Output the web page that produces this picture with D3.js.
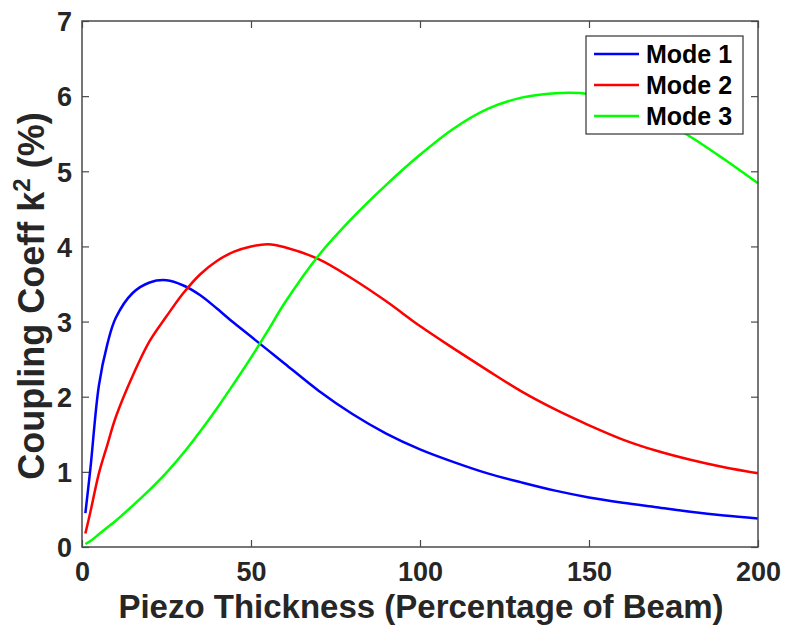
<!DOCTYPE html>
<html>
<head>
<meta charset="utf-8">
<script src="https://cdn.jsdelivr.net/npm/d3@7"></script>
<style>
  html, body { margin: 0; padding: 0; background: #fff; }
  svg { display: block; font-family: "Liberation Sans", Arial, sans-serif; }
</style>
</head>
<body>
<svg id="chart" width="787" height="628"></svg>
<script>
// ---- data ----
const thickness = [1, 2.5, 5, 7.5, 10, 15, 20, 25, 30, 35, 40, 45, 50, 55, 60, 70, 80, 90, 100, 110, 120, 130, 140, 150, 160, 170, 180, 190, 200];
const mode1 = [0.45, 1.05, 2.15, 2.70, 3.05, 3.38, 3.52, 3.55, 3.48, 3.35, 3.17, 2.98, 2.80, 2.62, 2.44, 2.08, 1.77, 1.51, 1.30, 1.13, 0.98, 0.86, 0.75, 0.66, 0.59, 0.53, 0.47, 0.42, 0.38];
const mode2 = [0.18, 0.47, 0.98, 1.36, 1.73, 2.28, 2.74, 3.07, 3.38, 3.63, 3.81, 3.93, 4.00, 4.03, 3.99, 3.83, 3.57, 3.27, 2.94, 2.64, 2.35, 2.07, 1.83, 1.62, 1.43, 1.28, 1.16, 1.06, 0.98];
const mode3 = [0.04, 0.08, 0.17, 0.26, 0.35, 0.55, 0.76, 0.99, 1.25, 1.54, 1.85, 2.18, 2.52, 2.88, 3.25, 3.88, 4.38, 4.82, 5.22, 5.57, 5.83, 5.98, 6.04, 6.03, 5.92, 5.72, 5.46, 5.16, 4.84];
const seriesNames = ["Mode 1", "Mode 2", "Mode 3"];
const seriesColors = ["#0000ff", "#ff0000", "#00ff00"];
const xTicks = [0, 50, 100, 150, 200];
const yTicks = [0, 1, 2, 3, 4, 5, 6, 7];
const xLabel = "Piezo Thickness (Percentage of Beam)";

// ---- layout ----
const svg = d3.select("#chart");
const L = 82, T = 21, R = 758, B = 547;
const x = d3.scaleLinear().domain([0, 200]).range([L, R]);
const y = d3.scaleLinear().domain([0, 7]).range([B, T]);
const axisColor = "#4a4a4a";
const textColor = "#262626";
const tickLen = 7;
const fmt = d3.format("d");

// ticks (inward, all four sides)
const g = svg.append("g");
const axBottom = g.append("g").attr("transform", `translate(0,${B})`)
  .call(d3.axisBottom(x).tickValues(xTicks).tickFormat(fmt).tickSizeInner(-tickLen).tickSizeOuter(0));
const axTop = g.append("g").attr("transform", `translate(0,${T})`)
  .call(d3.axisTop(x).tickValues(xTicks).tickSizeInner(-tickLen).tickSizeOuter(0).tickFormat(""));
const axLeft = g.append("g").attr("transform", `translate(${L},0)`)
  .call(d3.axisLeft(y).tickValues(yTicks).tickFormat(fmt).tickSizeInner(-tickLen).tickSizeOuter(0));
const axRight = g.append("g").attr("transform", `translate(${R},0)`)
  .call(d3.axisRight(y).tickValues(yTicks).tickSizeInner(-tickLen).tickSizeOuter(0).tickFormat(""));
[axBottom, axTop, axLeft, axRight].forEach(a => {
  a.select(".domain").remove();
  a.selectAll(".tick line").attr("stroke", axisColor).attr("stroke-width", 1.2);
  a.selectAll(".tick text").attr("fill", textColor).attr("font-size", 27).attr("font-weight", "bold")
    .attr("font-family", "'Liberation Sans', Arial, sans-serif");
});
axBottom.selectAll(".tick text").attr("y", 34).attr("dy", 0);
axLeft.selectAll(".tick text").attr("x", -10).attr("dy", "0.36em");

// lines
const line = d3.line().x((d, i) => x(thickness[i])).y(d => y(d)).curve(d3.curveCatmullRom.alpha(0.5));
const plot = svg.append("g");
[mode1, mode2, mode3].forEach((s, k) => {
  plot.append("path").datum(s).attr("d", line).attr("fill", "none")
    .attr("stroke", seriesColors[k]).attr("stroke-width", 2.5);
});

// frame
svg.append("rect").attr("x", L).attr("y", T).attr("width", R - L).attr("height", B - T)
  .attr("fill", "none").attr("stroke", axisColor).attr("stroke-width", 1.5);

// legend
const lg = svg.append("g");
lg.append("rect").attr("x", 586).attr("y", 36).attr("width", 157).attr("height", 98)
  .attr("fill", "#fff").attr("stroke", "#333").attr("stroke-width", 1.2);
seriesNames.forEach((n, k) => {
  const cy = 54 + k * 31;
  lg.append("line").attr("x1", 594).attr("x2", 639).attr("y1", cy).attr("y2", cy)
    .attr("stroke", seriesColors[k]).attr("stroke-width", 2.5);
  lg.append("text").attr("x", 646).attr("y", cy + 9).text(n)
    .attr("font-size", 25).attr("font-weight", "bold").attr("fill", "#000");
});

// axis labels
svg.append("text").attr("x", (L + R) / 2 + 1).attr("y", 618).attr("text-anchor", "middle")
  .attr("font-size", 33).attr("font-weight", "bold").attr("fill", textColor).text(xLabel);

const yl = svg.append("text").attr("transform", "translate(44,296) rotate(-90)")
  .attr("text-anchor", "middle").attr("font-size", 36).attr("font-weight", "bold").attr("fill", textColor);
yl.append("tspan").text("Coupling Coeff k");
yl.append("tspan").attr("font-size", 24).attr("dy", -14).text("2");
yl.append("tspan").attr("dy", 14).text(" (%)");
</script>
</body>
</html>
